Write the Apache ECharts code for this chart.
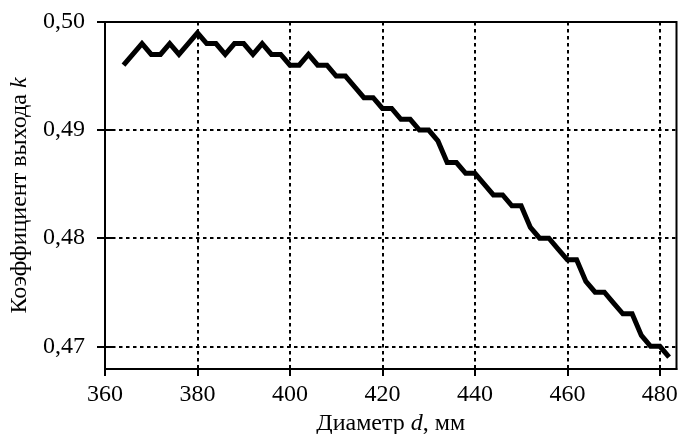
<!DOCTYPE html>
<html><head><meta charset="utf-8">
<script src="https://cdn.jsdelivr.net/npm/echarts@6/dist/echarts.min.js"></script>
<style>html,body{margin:0;padding:0;background:#fff}#c{width:679px;height:434px}</style>
</head><body><div id="c"></div>
<script>
const diameters = [364,366,368,370,372,374,376,378,380,382,384,386,388,390,392,394,396,398,400,402,404,406,408,410,412,414,416,418,420,422,424,426,428,430,432,434,436,438,440,442,444,446,448,450,452,454,456,458,460,462,464,466,468,470,472,474,476,478,480,482];
const kValues = [0.496,0.497,0.498,0.497,0.497,0.498,0.497,0.498,0.499,0.498,0.498,0.497,0.498,0.498,0.497,0.498,0.497,0.497,0.496,0.496,0.497,0.496,0.496,0.495,0.495,0.494,0.493,0.493,0.492,0.492,0.491,0.491,0.490,0.490,0.489,0.487,0.487,0.486,0.486,0.485,0.484,0.484,0.483,0.483,0.481,0.480,0.480,0.479,0.478,0.478,0.476,0.475,0.475,0.474,0.473,0.473,0.471,0.470,0.470,0.469];
const xTicks = [360,380,400,420,440,460,480];
const yTicks = [0.47,0.48,0.49,0.50];
const xName = 'Диаметр {i|d}, мм';
const yName = 'Коэффициент выхода {i|k}';

const FONT = 'Liberation Serif';
const FS = 24;
const chart = echarts.init(document.getElementById('c'));
const gridLine = {show:true, lineStyle:{color:'#000', width:2, type:[3.5,3.5]}};
const nameStyle = {fontFamily:FONT,fontSize:FS,color:'#000',
  rich:{i:{fontFamily:FONT,fontSize:FS,fontStyle:'italic',color:'#000'}}};
chart.setOption({
  animation:false,
  grid:{left:105,right:2.5,top:22,bottom:65,show:true,borderColor:'#000',borderWidth:2,
    containLabel:false,outerBoundsMode:'none'},
  xAxis:[{
    type:'value', min:360, max:483.6,
    name:xName, nameLocation:'middle', nameGap:37,
    nameTextStyle:nameStyle,
    axisLine:{lineStyle:{color:'#000',width:2}},
    axisTick:{customValues:xTicks,length:7,lineStyle:{color:'#000',width:2}},
    axisLabel:{customValues:xTicks,fontFamily:FONT,fontSize:FS,color:'#000',margin:14},
    splitLine:gridLine
  }],
  yAxis:[{
    type:'value', min:0.4679, max:0.5,
    name:yName, nameLocation:'middle', nameGap:68,
    nameTextStyle:nameStyle,
    axisLine:{lineStyle:{color:'#000',width:2}},
    axisTick:{customValues:yTicks,length:8,lineStyle:{color:'#000',width:2}},
    axisLabel:{customValues:yTicks,fontFamily:FONT,fontSize:FS,color:'#000',margin:20,
      formatter:v=>v.toFixed(2).replace('.',',')},
    splitLine:gridLine
  },{
    type:'value', min:0.4679, max:0.5, position:'left',
    axisLine:{show:false},
    axisTick:{show:true,inside:true,customValues:yTicks,length:8,lineStyle:{color:'#000',width:2}},
    axisLabel:{show:false}, splitLine:{show:false}
  }],
  series:[{
    type:'line', data:diameters.map((d,i)=>[d,kValues[i]]),
    showSymbol:false, lineStyle:{color:'#000',width:5,join:'miter'}
  }]
});
</script></body></html>
